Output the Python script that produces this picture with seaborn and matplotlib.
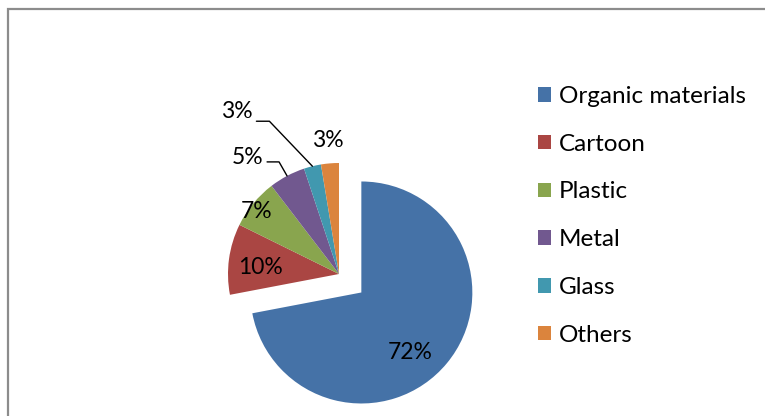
import numpy as np
import matplotlib
matplotlib.use("Agg")
import matplotlib.pyplot as plt
import seaborn as sns
from matplotlib.patches import Rectangle

categories = ["Organic materials", "Cartoon", "Plastic", "Metal", "Glass", "Others"]
values = [72.0, 10.3, 7.3, 5.3, 2.5, 2.6]
pct_labels = ["72%", "10%", "7%", "5%", "3%", "3%"]
colors = ["#4572A7", "#AA4643", "#89A54E", "#71588F", "#4198AF", "#DB843D"]

sns.set_theme(style="white")
plt.rcParams["font.family"] = ["Lato", "DejaVu Sans"]
plt.rcParams["text.color"] = "black"

W, H = 765, 416
fig = plt.figure(figsize=(W / 100, H / 100), dpi=100)
ax = fig.add_axes([0, 0, 1, 1])
ax.set_xlim(0, W)
ax.set_ylim(0, H)
ax.set_aspect("equal")
ax.axis("off")

# outer frame (chart area border)
fig.patches.append(Rectangle((8 / W, -0.1), 1.2, 1.1 - 9 / H, transform=fig.transFigure,
                             fill=False, edgecolor="#8c8c8c", linewidth=1.6))

cx, cy, R = 339, H - 274, 111
explode = [29, 0, 0, 0, 0, 0]
wedges, _ = ax.pie(values, colors=colors, startangle=90, counterclock=False,
                   explode=explode, radius=R, center=(cx, cy), normalize=True,
                   wedgeprops=dict(linewidth=0))
ax.set_xlim(0, W)
ax.set_ylim(0, H)

# label placement (distance as fraction of radius, angle shift in degrees)
dist = [0.70, 0.71, 0.93, None, None, 1.21]
shift = [-11, 3, 2, 0, 0, 0]
fs = 16.5
for i, w in enumerate(wedges):
    mid = np.deg2rad((w.theta1 + w.theta2) / 2)
    wx, wy = w.center
    if dist[i] is not None:
        a = mid + np.deg2rad(shift[i])
        ax.text(wx + dist[i] * R * np.cos(a), wy + dist[i] * R * np.sin(a), pct_labels[i],
                ha="center", va="center", fontsize=fs, color="black")

# leader lines for small slices (Metal, Glass)
leaders = {3: [(-8, 14), (-20, 14)], 4: [(-43, 45), (-56, 45)]}
text_off = {3: (-4, 4), 4: (-4, 10)}
for i, pts in leaders.items():
    w = wedges[i]
    mid = np.deg2rad((w.theta1 + w.theta2) / 2)
    px, py = cx + R * np.cos(mid), cy + R * np.sin(mid)
    xs = [px] + [px + dx for dx, dy in pts]
    ys = [py] + [py + dy for dx, dy in pts]
    ax.plot(xs, ys, color="black", linewidth=1.0)
    tx, ty = text_off[i]
    ax.text(xs[-1] + tx, ys[-1] + ty, pct_labels[i], ha="right", va="center",
            fontsize=fs, color="black")

leg = ax.legend(wedges, categories, loc="upper left", bbox_to_anchor=(538 / W, 1 - 86 / H),
                bbox_transform=fig.transFigure, frameon=False, fontsize=17.5,
                handlelength=0.55, handleheight=0.55, handletextpad=0.3, labelspacing=1.1,
                borderpad=0, borderaxespad=0)

fig.savefig("out.png", dpi=100)
